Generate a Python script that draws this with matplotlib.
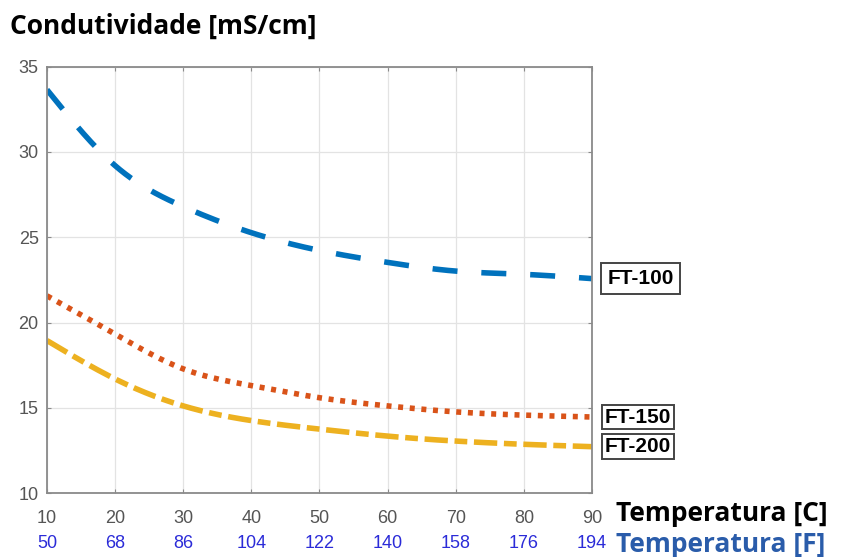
import numpy as np
import matplotlib.pyplot as plt

# dados
temp_c = [10, 20, 30, 40, 50, 60, 70, 80, 90]
ft100 = [33.65, 29.2, 26.8, 25.27, 24.23, 23.53, 23.02, 22.83, 22.58]
ft150 = [21.57, 19.33, 17.29, 16.31, 15.6, 15.12, 14.77, 14.58, 14.47]
ft200 = [18.95, 16.7, 15.12, 14.26, 13.76, 13.35, 13.06, 12.87, 12.73]
temp_f = [50, 68, 86, 104, 122, 140, 158, 176, 194]
y_ticks = [10, 15, 20, 25, 30, 35]
labels = ['FT-100', 'FT-150', 'FT-200']


def spline(x, y, n=300):
    # spline cúbica natural para desenhar a curva suave
    x = np.asarray(x, float)
    y = np.asarray(y, float)
    m = len(x)
    h = np.diff(x)
    A = np.zeros((m, m))
    b = np.zeros(m)
    A[0, 0] = A[-1, -1] = 1
    for i in range(1, m - 1):
        A[i, i - 1] = h[i - 1]
        A[i, i] = 2 * (h[i - 1] + h[i])
        A[i, i + 1] = h[i]
        b[i] = 6 * ((y[i + 1] - y[i]) / h[i] - (y[i] - y[i - 1]) / h[i - 1])
    M = np.linalg.solve(A, b)
    xs = np.linspace(x[0], x[-1], n)
    k = np.clip(np.searchsorted(x, xs) - 1, 0, m - 2)
    t1 = x[k + 1] - xs
    t0 = xs - x[k]
    hk = h[k]
    ys = (M[k] * t1 ** 3 + M[k + 1] * t0 ** 3) / (6 * hk) \
        + (y[k] / hk - M[k] * hk / 6) * t1 + (y[k + 1] / hk - M[k + 1] * hk / 6) * t0
    return xs, ys


fig = plt.figure(figsize=(8.48, 5.57), dpi=100)
ax = fig.add_axes([0.0554, 0.1144, 0.6427, 0.7659])

lw = 4.0
x1, y1 = spline(temp_c, ft100)
ax.plot(x1, y1, color='#0072BD', lw=lw, linestyle=(0, (4.5, 4.3)), dash_capstyle='butt')
x2, y2 = spline(temp_c, ft150)
ax.plot(x2, y2, color='#D95319', lw=lw, linestyle=(0, (0.9, 1.2)), dash_capstyle='butt')
x3, y3 = spline(temp_c, ft200)
ax.plot(x3, y3, color='#EDB120', lw=lw, linestyle=(0, (4.2, 1.2, 2.3, 1.2)), dash_capstyle='butt')

ax.set_xlim(10, 90)
ax.set_ylim(10, 35)
ax.set_xticks(temp_c)
ax.set_yticks(y_ticks)
ax.grid(True, color='#e3e3e3', lw=0.9)
ax.set_axisbelow(True)
for s in ax.spines.values():
    s.set_color('#8a8a8a')
    s.set_linewidth(1.3)
ax.tick_params(direction='in', length=3, color='#8a8a8a', top=True, right=True,
               labelsize=13, labelcolor='#555555')
ax.tick_params(axis='x', pad=12)
ax.tick_params(axis='y', pad=6)
for t in ax.get_xticklabels() + ax.get_yticklabels():
    t.set_fontfamily('Liberation Sans')

# eixo secundário em Fahrenheit
sec = ax.secondary_xaxis('bottom', functions=(lambda c: c * 9 / 5 + 32, lambda f: (f - 32) * 5 / 9))
sec.set_xticks(temp_f)
sec.spines['bottom'].set_visible(False)
sec.tick_params(length=0, pad=30, labelsize=13, labelcolor='#2b2bd8')
for t in sec.get_xticklabels():
    t.set_fontfamily('Liberation Sans')

# rótulos das curvas
pads = [0.3, 0.14, 0.14]
xpos = [92.3, 91.9, 91.9]
for name, series, p, xp in zip(labels, [ft100, ft150, ft200], pads, xpos):
    ax.text(xp, series[-1], name, fontsize=15, fontweight='bold', family='Liberation Sans',
            va='center', ha='left', clip_on=False,
            bbox=dict(boxstyle='square,pad=%s' % p, fc='white', ec='#444444', lw=1.4))

fig.text(0.012, 0.952, 'Condutividade [mS/cm]', fontsize=19, fontweight='bold',
         family='Open Sans', va='center', ha='left')
fig.text(0.727, 0.078, 'Temperatura [C]', fontsize=19, fontweight='bold',
         family='Open Sans', va='center', ha='left')
fig.text(0.727, 0.022, 'Temperatura [F]', fontsize=19, fontweight='bold',
         family='Open Sans', va='center', ha='left', color='#2a5caa')

fig.savefig('out.png', dpi=100)
